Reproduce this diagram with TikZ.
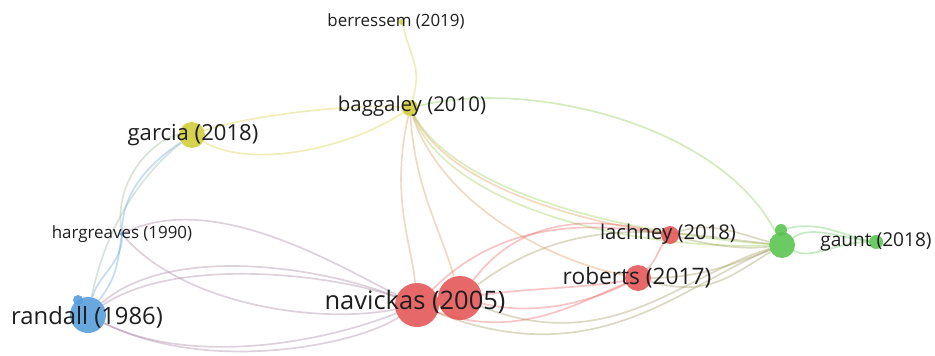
\documentclass[tikz,border=0pt]{standalone}
\usepackage{fontspec}
\setmainfont{Open Sans}
\usetikzlibrary{backgrounds}
\definecolor{vblue}{RGB}{88,158,218}
\definecolor{vyellow}{RGB}{210,205,60}
\definecolor{vred}{RGB}{228,88,88}
\definecolor{vgreen}{RGB}{92,196,82}
\definecolor{vtext}{RGB}{30,30,30}
\tikzset{
  vdot/.style={circle,inner sep=0pt,minimum size=#1,fill opacity=0.9},
  vlab/.style={text=vtext,inner sep=0pt,font=\fontsize{#1}{#1}\selectfont},
  vlink/.style={line width=1.7pt,draw opacity=0.35,draw=#1},
}

\begin{document}
\begin{tikzpicture}[x=1pt,y=-1pt]
%\draw[step=50,gray,very thin] (0,0) grid (935,356); %background grid
\useasboundingbox (0,0) rectangle (935,356);
\node[vdot=6pt,fill=vyellow] (ber) at (402,22) {};
\node[vdot=16pt,fill=vyellow] (bag) at (410,108) {};
\node[vdot=26pt,fill=vyellow] (gar) at (192,135) {};
\node[vdot=4pt,fill=vblue] (har) at (122,234) {};
\node[vdot=36pt,fill=vblue] (ran) at (88,315) {};
\node[vdot=10pt,fill=vblue] (ran2) at (78,300) {};
\node[vdot=44pt,fill=vred] (nav1) at (417,305) {};
\node[vdot=44pt,fill=vred] (nav2) at (460,298) {};
\node[vdot=18pt,fill=vred] (lac) at (670,235) {};
\node[vdot=26pt,fill=vred] (rob) at (638,278) {};
\node[vdot=26pt,fill=vgreen] (grn) at (782,245) {};
\node[vdot=12pt,fill=vgreen] (grn2) at (781,230) {};
\node[vdot=14pt,fill=vgreen] (gau) at (876,242) {};

\begin{scope}[on background layer]
% yellow
\draw[vlink=vyellow] (bag) .. controls +(12,-40) and +(10,40) .. (ber);
\draw[vlink=vyellow] (gar) .. controls +(50,-18) and +(-60,-5) .. (bag);
\draw[vlink=vyellow] (gar) .. controls +(60,35) and +(-60,40) .. (bag);
\draw[vlink=vyellow!35!vgreen] (bag) .. controls +(120,-30) and +(-60,-120) .. (grn);
\draw[vlink=vyellow!50!vgreen] (bag) .. controls +(50,90) and +(-140,-10) .. (grn);
\draw[vlink=vyellow!50!vgreen] (bag) .. controls +(40,100) and +(-150,5) .. (grn);
\draw[vlink=vyellow!50!vred] (bag) .. controls +(40,80) and +(-90,-15) .. (lac);
\draw[vlink=vyellow!50!vred] (bag) .. controls +(30,90) and +(-100,-20) .. (rob);
\draw[vlink=vyellow!50!vred] (bag) .. controls +(-20,90) and +(-5,-60) .. (nav1);
\draw[vlink=vyellow!50!vred] (bag) .. controls +(5,80) and +(-20,-70) .. (nav2);
% blue
\draw[vlink=vblue] (ran) .. controls +(10,-40) and +(0,30) .. (har);
\draw[vlink=vblue] (ran) .. controls +(30,-40) and +(-5,30) .. (har);
\draw[vlink=vblue] (har) .. controls +(0,-50) and +(-30,20) .. (gar);
\draw[vlink=vblue!60!vyellow] (ran) .. controls +(20,-100) and +(-40,30) .. (gar);
\draw[vlink=vblue!50!vyellow] (har) .. controls +(-10,-60) and +(-30,0) .. (gar);
\draw[vlink=vblue!50!vred] (har) .. controls +(90,-45) and +(-80,-40) .. (nav1);
\draw[vlink=vblue!50!vred] (har) .. controls +(60,70) and +(-100,20) .. (nav1);
\draw[vlink=vblue!50!vred] (ran) .. controls +(80,-70) and +(-100,-40) .. (nav1);
\draw[vlink=vblue!50!vred] (ran) .. controls +(90,-60) and +(-80,-30) .. (nav1);
\draw[vlink=vblue!50!vred] (ran) .. controls +(100,50) and +(-100,40) .. (nav1);
\draw[vlink=vblue!50!vred] (ran) .. controls +(120,60) and +(-60,40) .. (nav1);
% red
\draw[vlink=vred] (nav2) .. controls +(70,-10) and +(-50,10) .. (rob);
\draw[vlink=vred] (nav2) .. controls +(80,20) and +(-40,20) .. (rob);
\draw[vlink=vred] (nav1) .. controls +(100,35) and +(-60,25) .. (rob);
\draw[vlink=vred] (nav2) .. controls +(60,-80) and +(-80,-20) .. (lac);
\draw[vlink=vred] (nav1) .. controls +(80,-80) and +(-90,-15) .. (lac);
\draw[vlink=vred] (lac) .. controls +(-15,20) and +(20,-20) .. (rob);
\draw[vlink=vred!45!vgreen] (nav2) .. controls +(120,-90) and +(-100,-10) .. (grn);
\draw[vlink=vred!45!vgreen] (nav2) .. controls +(150,60) and +(-100,30) .. (grn);
\draw[vlink=vred!45!vgreen] (nav1) .. controls +(180,70) and +(-100,40) .. (grn);
\draw[vlink=vred!45!vgreen] (lac) .. controls +(40,10) and +(-40,5) .. (grn);
\draw[vlink=vred!45!vgreen] (lac) .. controls +(40,-15) and +(-40,-10) .. (grn);
\draw[vlink=vred!45!vgreen] (rob) .. controls +(60,0) and +(-50,20) .. (grn);
\draw[vlink=vred!45!vgreen] (rob) .. controls +(70,20) and +(-50,30) .. (grn);
% green
\draw[vlink=vgreen] (grn) .. controls +(30,-20) and +(-40,-5) .. (gau);
\draw[vlink=vgreen] (grn) .. controls +(30,15) and +(-40,0) .. (gau);
\draw[vlink=vgreen] (grn2) .. controls +(40,-10) and +(-30,-5) .. (gau);
\end{scope}

\node[vlab=16.9] (berlab) at (396,21) {berressem (2019)};
\node[vlab=20.4] (baglab) at (412,106) {baggaley (2010)};
\node[vlab=22.1] (garlab) at (193,135) {garcia (2018)};
\node[vlab=16.9] (harlab) at (122,234) {hargreaves (1990)};
\node[vlab=23.8] (ranlab) at (87,317) {randall (1986)};
\node[vlab=25.5] (navlab) at (415,302) {navickas (2005)};
\node[vlab=20.3] (laclab) at (668,234) {lachney (2018)};
\node[vlab=22.7] (roblab) at (637,278) {roberts (2017)};
\node[vlab=19.1] (gaulab) at (876,242) {gaunt (2018)};
\end{tikzpicture}
\end{document}
